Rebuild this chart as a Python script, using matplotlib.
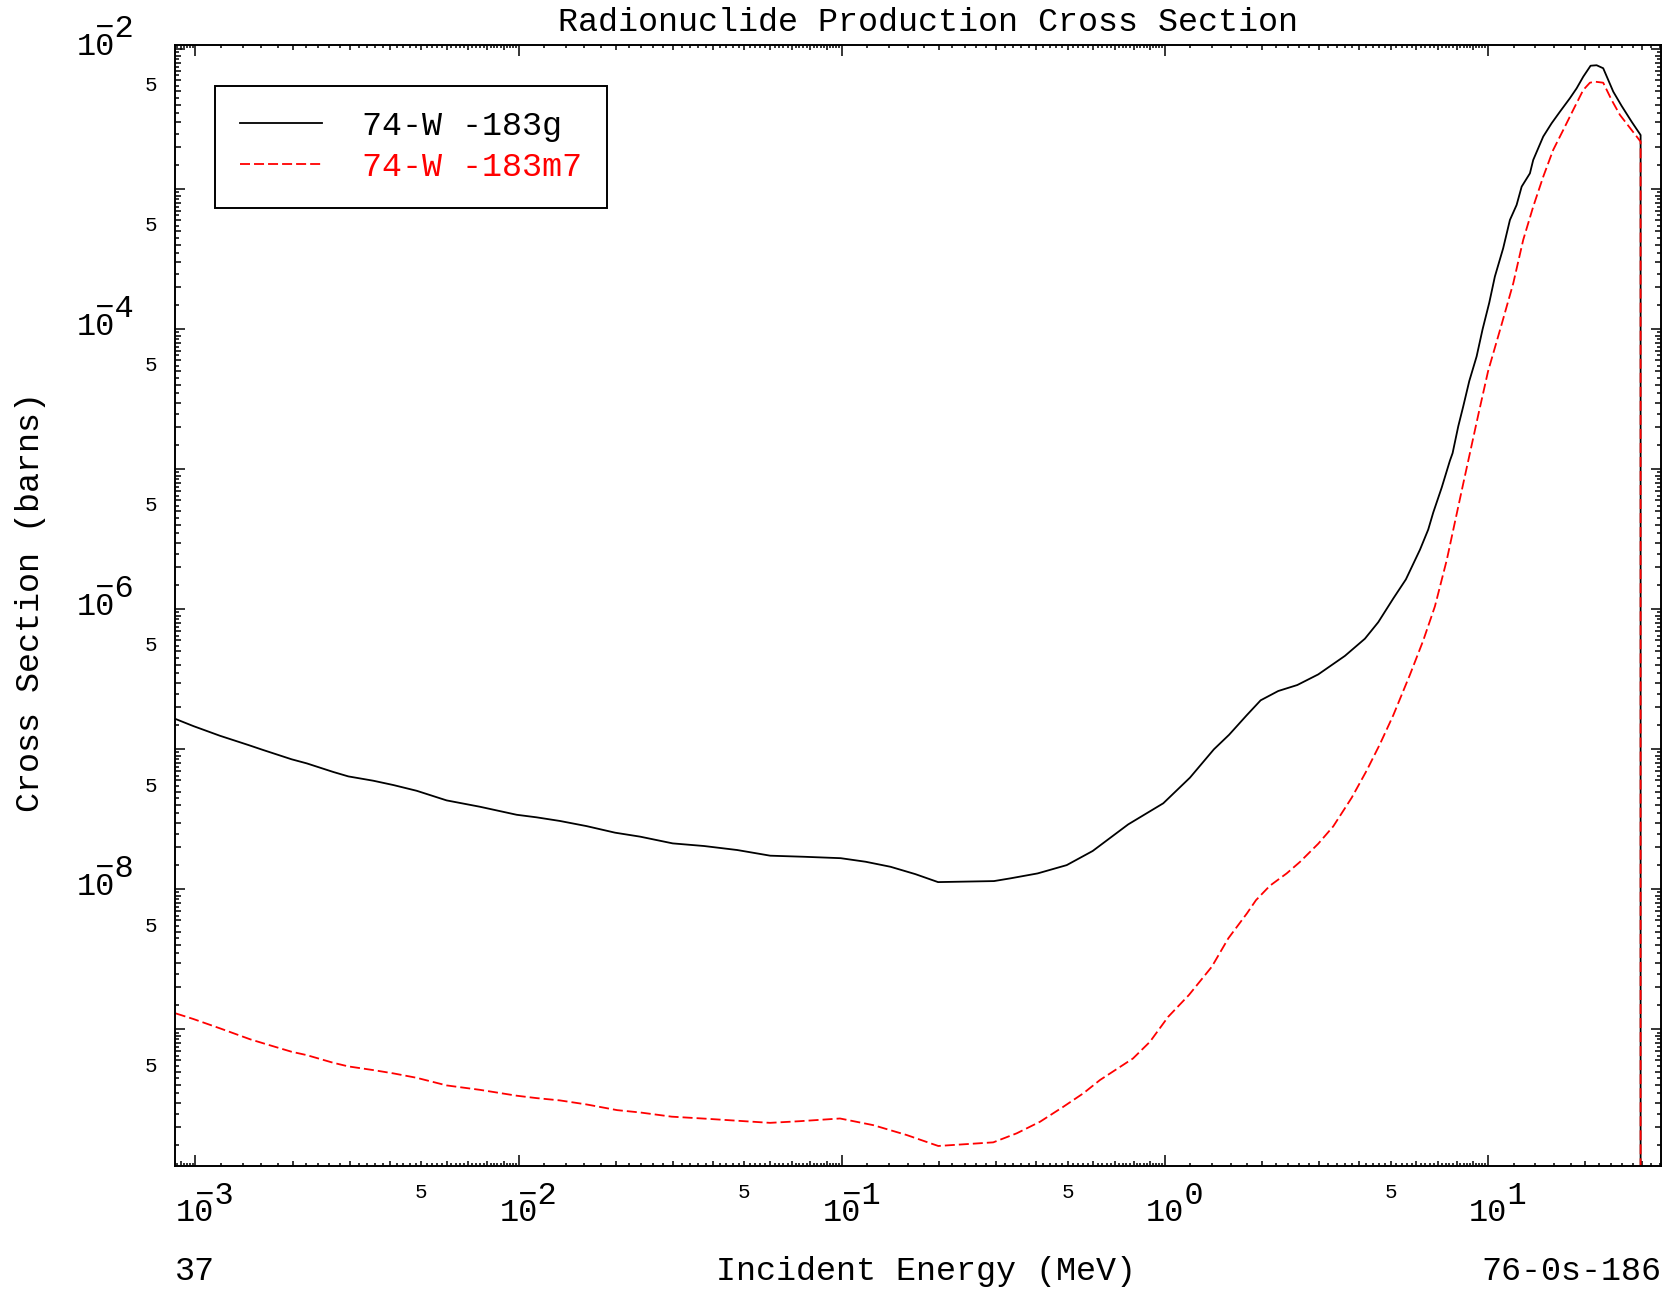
import numpy as np
import matplotlib
matplotlib.use("Agg")
import matplotlib.pyplot as plt
from matplotlib.ticker import FixedLocator, FuncFormatter
from matplotlib.transforms import ScaledTranslation

plt.rcParams['font.family'] = ['Liberation Mono', 'DejaVu Sans Mono']
plt.rcParams['lines.scale_dashes'] = False

# ---------------- texts ----------------
title = "Radionuclide Production Cross Section"
x_label = "Incident Energy (MeV)"
y_label = "Cross Section (barns)"
left_note = "37"
right_note = "76-0s-186"
label_g = "74-W -183g"
label_m = "74-W -183m7"

# ---------------- data (MeV, barns) ----------------
energy_g = [8.70e-4, 9.86e-4, 1.192e-3, 1.459e-3, 1.622e-3, 1.986e-3, 2.212e-3, 2.674e-3,
            2.974e-3, 3.553e-3, 4.10e-3, 4.84e-3, 5.99e-3, 7.60e-3, 9.87e-3, 1.137e-2,
            1.343e-2, 1.624e-2, 1.99e-2, 2.378e-2, 3.00e-2, 3.75e-2, 4.75e-2, 6.01e-2,
            7.61e-2, 9.93e-2, 0.1186, 0.1416, 0.169, 0.1987, 0.296, 0.333, 0.404, 0.497,
            0.598, 0.770, 0.989, 1.196, 1.418, 1.58, 1.791, 1.979, 2.243, 2.569, 2.983,
            3.607, 4.16, 4.574, 5.09, 5.57, 6.16, 6.53, 6.77, 7.19, 7.62, 7.77, 8.09,
            8.38, 8.75, 9.22, 9.62, 10.09, 10.50, 11.14, 11.69, 12.26, 12.71, 13.48,
            13.80, 14.82, 15.73, 16.69, 17.92, 18.80, 19.71, 20.77, 21.68, 22.72, 23.55,
            24.41, 25.91, 27.82, 29.66, 29.66]
xs_g = [1.645e-7, 1.466e-7, 1.25e-7, 1.074e-7, 9.89e-8, 8.49e-8, 7.94e-8, 6.89e-8,
        6.41e-8, 5.97e-8, 5.56e-8, 5.06e-8, 4.32e-8, 3.89e-8, 3.41e-8, 3.27e-8,
        3.08e-8, 2.83e-8, 2.54e-8, 2.38e-8, 2.13e-8, 2.04e-8, 1.91e-8, 1.74e-8,
        1.71e-8, 1.67e-8, 1.575e-8, 1.45e-8, 1.285e-8, 1.127e-8, 1.146e-8, 1.199e-8,
        1.30e-8, 1.49e-8, 1.88e-8, 2.91e-8, 4.12e-8, 6.28e-8, 1.0e-7, 1.27e-7,
        1.75e-7, 2.24e-7, 2.61e-7, 2.88e-7, 3.43e-7, 4.65e-7, 6.17e-7, 8.09e-7,
        1.194e-6, 1.636e-6, 2.67e-6, 3.71e-6, 4.92e-6, 7.41e-6, 1.15e-5, 1.305e-5,
        2.03e-5, 2.81e-5, 4.27e-5, 6.4e-5, 1.0e-4, 1.55e-4, 2.38e-4, 3.79e-4,
        6.04e-4, 7.73e-4, 1.045e-3, 1.30e-3, 1.62e-3, 2.38e-3, 2.96e-3, 3.58e-3,
        4.47e-3, 5.26e-3, 6.37e-3, 7.63e-3, 7.69e-3, 7.32e-3, 6.04e-3, 4.98e-3,
        3.94e-3, 3.04e-3, 2.44e-3, 0.0]

energy_m = [8.70e-4, 9.86e-4, 1.192e-3, 1.479e-3, 1.663e-3, 1.986e-3, 2.212e-3, 2.674e-3,
            2.974e-3, 3.553e-3, 4.10e-3, 4.84e-3, 5.99e-3, 7.60e-3, 9.87e-3, 1.137e-2,
            1.343e-2, 1.624e-2, 2.02e-2, 2.38e-2, 2.98e-2, 3.82e-2, 4.84e-2, 6.00e-2,
            7.43e-2, 9.88e-2, 0.1253, 0.1589, 0.199, 0.2944, 0.348, 0.411, 0.485, 0.559,
            0.630, 0.797, 0.899, 1.024, 1.187, 1.397, 1.572, 1.795, 1.914, 2.114, 2.382,
            2.618, 2.984, 3.32, 3.785, 4.21, 4.63, 5.09, 5.73, 6.30, 6.85, 7.45, 7.90,
            8.38, 8.79, 9.33, 10.0, 11.0, 11.97, 12.85, 13.80, 14.82, 15.91, 17.09,
            18.35, 19.71, 20.67, 21.42, 22.72, 24.13, 25.59, 27.82, 29.66, 29.66]
xs_m = [1.30e-9, 1.186e-9, 1.017e-9, 8.49e-10, 7.82e-10, 6.92e-10, 6.55e-10, 5.77e-10,
        5.44e-10, 5.12e-10, 4.85e-10, 4.51e-10, 3.98e-10, 3.70e-10, 3.36e-10, 3.23e-10,
        3.11e-10, 2.91e-10, 2.65e-10, 2.55e-10, 2.38e-10, 2.30e-10, 2.22e-10, 2.15e-10,
        2.21e-10, 2.31e-10, 2.07e-10, 1.76e-10, 1.47e-10, 1.56e-10, 1.81e-10, 2.19e-10,
        2.80e-10, 3.49e-10, 4.35e-10, 6.2e-10, 8.15e-10, 1.23e-9, 1.76e-9, 2.8e-9,
        4.47e-9, 6.74e-9, 8.37e-9, 1.062e-8, 1.30e-8, 1.57e-8, 2.12e-8, 2.82e-8,
        4.51e-8, 7.04e-8, 1.09e-7, 1.75e-7, 3.40e-7, 5.97e-7, 1.05e-6, 2.24e-6,
        4.2e-6, 7.89e-6, 1.305e-5, 2.45e-5, 5.0e-5, 1.07e-4, 2.13e-4, 4.35e-4,
        7.52e-4, 1.23e-3, 1.91e-3, 2.65e-3, 3.69e-3, 5.12e-3, 5.77e-3, 5.87e-3,
        5.77e-3, 4.34e-3, 3.40e-3, 2.65e-3, 2.19e-3, 0.0]

x_limits = (8.65e-4, 34.3)
y_limits = (1.057e-10, 1.073e-2)

# ---------------- figure ----------------
fig = plt.figure(figsize=(16.65, 12.89), dpi=100)
ax = fig.add_axes([0.1051, 0.0954, 0.8925, 0.8697])
ax.set_xscale('log', nonpositive='clip')
ax.set_yscale('log', nonpositive='clip')

ax.plot(energy_g, xs_g, color='black', lw=1.3, label=label_g)
ax.plot(energy_m, xs_m, color='red', lw=1.3, dashes=(7.2, 2.9), label=label_m)

ax.set_xlim(*x_limits)
ax.set_ylim(*y_limits)

for s in ax.spines.values():
    s.set_linewidth(1.4)


def mantissa(v):
    e = np.floor(np.log10(v) + 1e-9)
    return round(v / 10.0 ** e, 3), int(e)


x_major = [10.0 ** k for k in range(-4, 3)]
x_minor = [round(m, 1) * 10.0 ** k for k in range(-4, 2) for m in np.arange(1.2, 9.99, 0.2)]
y_major = [10.0 ** k for k in range(-11, 0)]
y_minor = [round(m, 1) * 10.0 ** k for k in range(-11, -1) for m in np.arange(1.5, 9.99, 0.5)]

ax.xaxis.set_major_locator(FixedLocator(x_major))
ax.xaxis.set_minor_locator(FixedLocator(x_minor))
ax.yaxis.set_major_locator(FixedLocator(y_major))
ax.yaxis.set_minor_locator(FixedLocator(y_minor))


def in_range(v, lim):
    return lim[0] <= v <= lim[1]


def decade_label(e):
    # exponent sits above, its sign slot over the "0" of "10"
    sign = '\u2212' if e < 0 else ' '
    return ' %s%d\n10' % (sign, abs(e))


def fmt_x_major(v, pos=None):
    m, e = mantissa(v)
    return decade_label(e) if in_range(v, x_limits) else ''


def fmt_y_major(v, pos=None):
    m, e = mantissa(v)
    return decade_label(e) if (e % 2 == 0 and in_range(v, y_limits)) else ''


def fmt_minor(v, pos=None):
    m, e = mantissa(v)
    return '5' if abs(m - 5) < 1e-6 else ''


ax.xaxis.set_major_formatter(FuncFormatter(fmt_x_major))
ax.xaxis.set_minor_formatter(FuncFormatter(fmt_minor))
ax.yaxis.set_major_formatter(FuncFormatter(fmt_y_major))
ax.yaxis.set_minor_formatter(FuncFormatter(fmt_minor))

ax.tick_params(which='both', direction='in', top=True, right=True, width=1.1, color='black')
ax.tick_params(axis='x', which='major', length=8, pad=10.8, labelsize=23)
ax.tick_params(axis='x', which='minor', length=2, pad=12, labelsize=15)
ax.tick_params(axis='y', which='major', length=7.2, pad=29.5, labelsize=23)
ax.tick_params(axis='y', which='minor', length=3, pad=12.5, labelsize=15)

# per-tick lengths for the integer minor ticks
for t, loc in zip(ax.xaxis.get_minor_ticks(), ax.xaxis.get_minorticklocs()):
    m, e = mantissa(loc)
    if abs(m - round(m)) < 1e-6:
        t.tick1line.set_markersize(3.6)
        t.tick2line.set_markersize(3.6)
for t, loc in zip(ax.yaxis.get_minor_ticks(), ax.yaxis.get_minorticklocs()):
    m, e = mantissa(loc)
    if abs(m - round(m)) < 1e-6:
        t.tick1line.set_markersize(4.0)
        t.tick2line.set_markersize(4.0)

char_w = 0.6 * 23  # advance of one glyph of the monospaced label font, in points
xshift = ScaledTranslation(-char_w / 72, 0, fig.dpi_scale_trans)
for t in ax.xaxis.get_major_ticks():
    t.label1.set_horizontalalignment('left')
    t.label1.set_verticalalignment('top')
    t.label1.set_multialignment('left')
    t.label1.set_linespacing(0.45)
    t.label1.set_transform(t.label1.get_transform() + xshift)
yup = ScaledTranslation(0, 25.2 / 72, fig.dpi_scale_trans)
for t in ax.yaxis.get_major_ticks():
    t.label1.set_verticalalignment('top')
    t.label1.set_multialignment('left')
    t.label1.set_linespacing(0.45)
    t.label1.set_transform(t.label1.get_transform() + yup)
for t in ax.yaxis.get_minor_ticks():
    t.label1.set_verticalalignment('baseline')

ax.set_title(title, fontsize=24, pad=10, x=0.507)

leg = ax.legend(loc='upper left', bbox_to_anchor=(0.02725, 0.9637), borderaxespad=0,
                fontsize=24, frameon=True, fancybox=False, edgecolor='black',
                framealpha=1, borderpad=0.75, labelspacing=0.3, handlelength=2.46,
                handletextpad=1.2, labelcolor='linecolor')
leg.get_frame().set_linewidth(1.4)

fig.text(0.0183, 0.533, y_label, rotation=90, ha='center', va='center', fontsize=24)
fig.text(0.1051, 0.007, left_note, ha='left', va='baseline', fontsize=24)
fig.text(0.9976, 0.007, right_note, ha='right', va='baseline', fontsize=24)
fig.text(0.5563, 0.007, x_label, ha='center', va='baseline', fontsize=24)

fig.savefig('out.png', dpi=100)
